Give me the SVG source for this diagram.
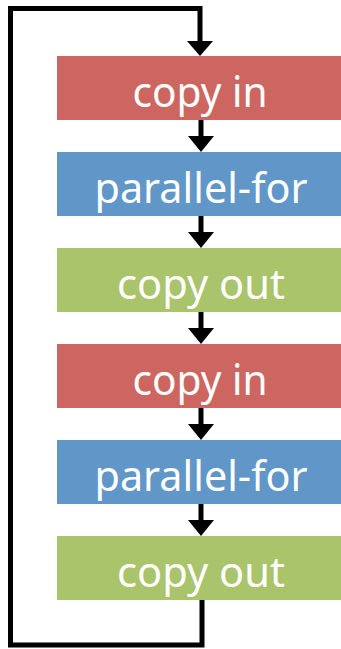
<svg xmlns="http://www.w3.org/2000/svg" width="341" height="649" viewBox="0 0 341 649">
<defs>
<style>
.lbl{font-family:"Noto Sans","Open Sans",sans-serif;font-size:42px;fill:#ffffff;text-anchor:middle}
.red{fill:#CD6660}.blue{fill:#6096C8}.green{fill:#AAC46C}
.ln{fill:none;stroke:#000;stroke-width:5}
.ah{fill:#000}
</style>
</defs>
<g id="connectors">
<path class="ln" d="M202,600 V645 H10.5 V8.5 H200 V42" stroke-linejoin="miter"/>
<path class="ah" d="M187,41 H213 L200,56 Z"/>
<path class="ln" d="M201,120 V137"/><path class="ah" d="M188,136 H214 L201,152 Z"/>
<path class="ln" d="M201,216 V233"/><path class="ah" d="M188,232 H214 L201,248 Z"/>
<path class="ln" d="M201,312 V329"/><path class="ah" d="M188,328 H214 L201,344 Z"/>
<path class="ln" d="M201,408 V425"/><path class="ah" d="M188,424 H214 L201,440 Z"/>
<path class="ln" d="M201,504 V521"/><path class="ah" d="M188,520 H214 L201,536 Z"/>
</g>
<g id="n1"><rect class="red" x="57" y="56" width="286" height="64"/><text class="lbl" x="200" y="107" textLength="135" lengthAdjust="spacingAndGlyphs">copy in</text></g>
<g id="n2"><rect class="blue" x="57" y="152" width="286" height="64"/><text class="lbl" x="201" y="203" textLength="213" lengthAdjust="spacingAndGlyphs">parallel-for</text></g>
<g id="n3"><rect class="green" x="57" y="248" width="286" height="64"/><text class="lbl" x="201" y="299" textLength="168" lengthAdjust="spacingAndGlyphs">copy out</text></g>
<g id="n4"><rect class="red" x="57" y="344" width="286" height="64"/><text class="lbl" x="200" y="395" textLength="135" lengthAdjust="spacingAndGlyphs">copy in</text></g>
<g id="n5"><rect class="blue" x="57" y="440" width="286" height="64"/><text class="lbl" x="201" y="491" textLength="213" lengthAdjust="spacingAndGlyphs">parallel-for</text></g>
<g id="n6"><rect class="green" x="57" y="536" width="286" height="64"/><text class="lbl" x="201" y="587" textLength="168" lengthAdjust="spacingAndGlyphs">copy out</text></g>
</svg>
